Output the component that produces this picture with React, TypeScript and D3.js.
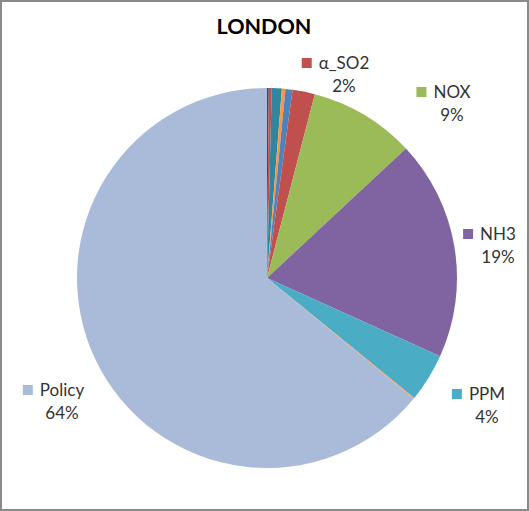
import React from "react";
import * as d3 from "d3";

const categories = ["Other A", "Other B", "Other C", "Other D", "Other E", "α_SO2", "NOX", "NH3", "PPM", "Other F", "Policy"];
const values = [0.15, 0.25, 0.85, 0.3, 0.6, 1.9, 9.0, 18.7, 4.1, 0.1, 64.0];
const colors = ["#2C4D75", "#C0504D", "#31859C", "#F79646", "#4F81BD", "#C0504D", "#9BBB59", "#8064A2", "#4BACC6", "#F79646", "#AABBDA"];
const labelled = ["α_SO2", "NOX", "NH3", "PPM", "Policy"];
const title = "LONDON";

// layout (label name centre x, baseline y)
const labelAnchors: Record<string, [number, number]> = {
  "α_SO2": [344, 69],
  NOX: [452, 98],
  NH3: [498, 240],
  PPM: [487, 400],
  Policy: [62, 396],
};

const W = 529;
const H = 511;
const FONT = "Lato, 'Open Sans', sans-serif";
const FS = 17;

function measure(text: string, font: string): number {
  const c = document.createElement("canvas").getContext("2d");
  if (!c) return text.length * 8;
  c.font = font;
  return c.measureText(text).width;
}

export default function App() {
  const cx = 267;
  const cy = 278;
  const r = 190;
  const total = d3.sum(values);
  const data = categories.map((c, i) => ({ name: c, value: values[i], color: colors[i] }));
  const pie = d3.pie<any>().sort(null).value((d: any) => d.value).startAngle(0).endAngle(2 * Math.PI);
  const arcs = pie(data);
  const arc = d3.arc<any>().innerRadius(0).outerRadius(r);

  return (
    <svg width={W} height={H} style={{ position: "absolute", left: 0, top: 0, background: "#fff" }}>
      <rect x={1} y={1} width={527} height={509} fill="#fff" stroke="#8a8a8a" strokeWidth={2} />
      <text x={264} y={34} textAnchor="middle" fontFamily={FONT} fontWeight="bold" fontSize={21.5} fill="#000">
        {title}
      </text>
      <g transform={`translate(${cx},${cy})`}>
        {arcs.map((a, i) => (
          <path key={i} d={arc(a) as string} fill={a.data.color} />
        ))}
      </g>
      {arcs
        .filter((a) => labelled.includes(a.data.name))
        .map((a, i) => {
          const [x, y] = labelAnchors[a.data.name];
          const w = measure(a.data.name, `${FS}px ${FONT}`);
          const left = x - w / 2;
          const pct = Math.round((a.data.value / total) * 100) + "%";
          return (
            <g key={i}>
              <rect x={left - 17} y={y - 11} width={10} height={10} fill={a.data.color} />
              <text x={x} y={y} textAnchor="middle" fontFamily={FONT} fontSize={FS} fill="#333">
                {a.data.name}
              </text>
              <text x={x} y={y + 23} textAnchor="middle" fontFamily={FONT} fontSize={FS} fill="#333">
                {pct}
              </text>
            </g>
          );
        })}
    </svg>
  );
}
